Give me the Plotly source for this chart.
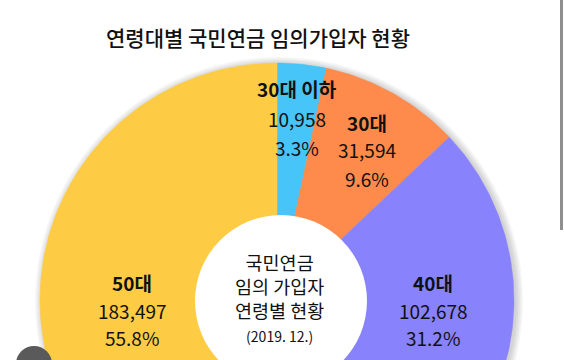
import numpy as np
import plotly.graph_objects as go

# ---- data ----
categories = ["30대 이하", "30대", "40대", "50대"]
values = [10958, 31594, 102678, 183497]
title_text = "연령대별 국민연금 임의가입자 현황"
center_lines = ["국민연금", "임의 가입자", "연령별 현황", "(2019. 12.)"]

# ---- style / layout ----
colors = ["#47C4F8", "#FE8B4B", "#8883FC", "#FDCC44"]
W, H = 564, 360
CX, CY, R = 277, 300, 237
HOLE_CX, HOLE_CY, HOLE_R = 281, 301, 86
FONT = "Noto Sans CJK KR"
label_pos = [(297, [88, 118, 147]), (367, [122, 149, 178]),
             (433, [282, 310, 337]), (132, [282, 310, 337])]
center_pos = (279, 297)

fig = go.Figure()

# soft shadow around the pie
for i in range(5):
    rr = R + 1 + i * 1.5
    fig.add_shape(type="circle", xref="x", yref="y",
                  x0=CX + 2 - rr, x1=CX + 2 + rr, y0=CY + 1 - rr, y1=CY + 1 + rr,
                  fillcolor="rgba(0,0,0,0.035)", line_width=0, layer="below")

total = sum(values)
start = 0.0
for cat, v, col in zip(categories, values, colors):
    frac = v / total
    th = np.linspace(start, start + frac, max(int(frac * 400), 4)) * 2 * np.pi
    xs = np.concatenate([[CX], CX + R * np.sin(th), [CX]])
    ys = np.concatenate([[CY], CY - R * np.cos(th), [CY]])
    fig.add_trace(go.Scatter(x=xs, y=ys, mode="lines", fill="toself",
                             fillcolor=col, line=dict(color=col, width=0.5),
                             hoverinfo="skip", showlegend=False, name=cat))
    start += frac

# hole
fig.add_shape(type="circle", xref="x", yref="y",
              x0=HOLE_CX - HOLE_R, x1=HOLE_CX + HOLE_R,
              y0=HOLE_CY - HOLE_R, y1=HOLE_CY + HOLE_R,
              fillcolor="white", line_width=0, layer="above")

# slice labels
for (cat, v), (lx, lys) in zip(zip(categories, values), label_pos):
    texts = [f"<b>{cat}</b>", f"{v:,}", f"{v / total * 100:.1f}%"]
    for t, ly in zip(texts, lys):
        fig.add_annotation(x=lx, y=ly, text=t, showarrow=False, xref="x", yref="y",
                           xanchor="center", yanchor="middle",
                           font=dict(family=FONT, size=19, color="#111111"))

# center text (one block)
center_text = "<br>".join(center_lines[:3]) + \
    f"<br><span style='font-size:14px'>{center_lines[3]}</span>"
fig.add_annotation(x=center_pos[0], y=center_pos[1], text=center_text, showarrow=False,
                   xref="x", yref="y", xanchor="center", yanchor="middle",
                   font=dict(family=FONT, size=18.5, color="#111111"))

# title
fig.add_annotation(x=258, y=37, text=title_text, showarrow=False, xref="x", yref="y",
                   xanchor="center", yanchor="middle",
                   font=dict(family=FONT, size=21, color="#111111", weight=500))

# screenshot artifacts: scrollbar and button
fig.add_shape(type="rect", xref="x", yref="y", x0=560, x1=563, y0=0, y1=230,
              fillcolor="#8f8f8f", line_width=0)
fig.add_shape(type="circle", xref="x", yref="y", x0=16, x1=52, y0=346, y1=382,
              fillcolor="#5a5a5a", line_width=0, layer="above")

fig.update_xaxes(range=[0, W], visible=False, fixedrange=True)
fig.update_yaxes(range=[H, 0], visible=False, fixedrange=True)
fig.update_layout(width=W, height=H, margin=dict(l=0, r=0, t=0, b=0),
                  paper_bgcolor="white", plot_bgcolor="white", showlegend=False)

fig.write_html("out.html", config={"displayModeBar": False, "staticPlot": True},
               post_script="document.body.style.margin='0';document.body.style.overflow='hidden';")
